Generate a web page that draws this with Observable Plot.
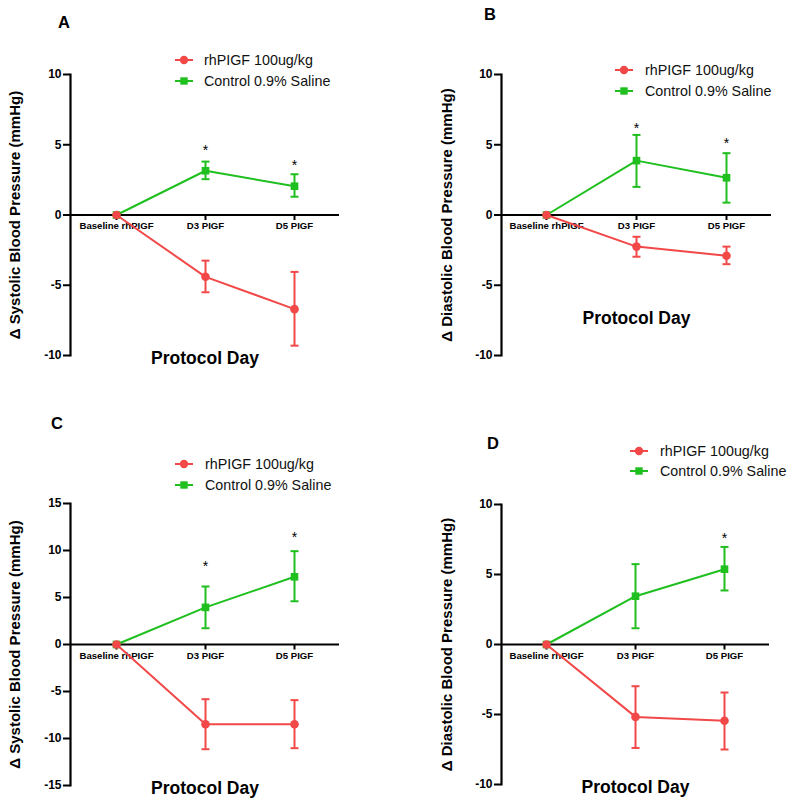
<!DOCTYPE html>
<html>
<head>
<meta charset="utf-8">
<script src="https://cdn.jsdelivr.net/npm/d3@7"></script>
<script src="https://cdn.jsdelivr.net/npm/@observablehq/plot@0.6"></script>
<style>
  html, body { margin: 0; padding: 0; background: #fff; }
  #wrap { position: relative; width: 800px; height: 811px; overflow: hidden; background: #fff; }
  #wrap svg { position: absolute; }
</style>
</head>
<body>
<div id="wrap"></div>
<script>
// ---------- data ----------
const days = ["Baseline rhPIGF", "D3 PIGF", "D5 PIGF"];
const seriesNames = ["rhPIGF 100ug/kg", "Control 0.9% Saline"];
const panelLetters = ["A", "B", "C", "D"];
const yLabels = [
  "\u0394 Systolic Blood Pressure (mmHg)",
  "\u0394 Diastolic Blood Pressure (mmHg)",
  "\u0394 Systolic Blood Pressure (mmHg)",
  "\u0394 Diastolic Blood Pressure (mmHg)"
];
const xLabel = "Protocol Day";
const ticks10 = [-10, -5, 0, 5, 10];
const ticks15 = [-15, -10, -5, 0, 5, 10, 15];

// Panel A – systolic
const aPlgf = [0, -4.4, -6.7];
const aPlgfHi = [0, -3.25, -4.05];
const aPlgfLo = [0, -5.5, -9.3];
const aCtrl = [0, 3.15, 2.05];
const aCtrlHi = [0, 3.8, 2.9];
const aCtrlLo = [0, 2.55, 1.3];
const aStarDays = ["D3 PIGF", "D5 PIGF"];
const aStarY = [4.8, 3.7];

// Panel B – diastolic
const bPlgf = [0, -2.25, -2.9];
const bPlgfHi = [0, -1.55, -2.25];
const bPlgfLo = [0, -2.97, -3.5];
const bCtrl = [0, 3.87, 2.65];
const bCtrlHi = [0, 5.7, 4.4];
const bCtrlLo = [0, 2.0, 0.88];
const bStarDays = ["D3 PIGF", "D5 PIGF"];
const bStarY = [6.4, 5.27];

// Panel C – systolic
const cPlgf = [0, -8.48, -8.48];
const cPlgfHi = [0, -5.82, -5.92];
const cPlgfLo = [0, -11.14, -11.03];
const cCtrl = [0, 3.95, 7.2];
const cCtrlHi = [0, 6.17, 9.93];
const cCtrlLo = [0, 1.73, 4.6];
const cStarDays = ["D3 PIGF", "D5 PIGF"];
const cStarY = [8.6, 11.7];

// Panel D – diastolic
const dPlgf = [0, -5.17, -5.45];
const dPlgfHi = [0, -2.98, -3.43];
const dPlgfLo = [0, -7.39, -7.5];
const dCtrl = [0, 3.45, 5.38];
const dCtrlHi = [0, 5.74, 6.97];
const dCtrlLo = [0, 1.16, 3.86];
const dStarDays = ["D5 PIGF"];
const dStarY = [7.8];

// ---------- styling ----------
const RED = "#f24848";
const GREEN = "#1ebf1e";
const FONT = "'Liberation Sans', Arial, Helvetica, sans-serif";

const capSymbol = {
  draw(ctx, size) {
    const r = Math.sqrt(size / Math.PI);
    ctx.moveTo(-r, 0); ctx.lineTo(r, 0);
  }
};
const tickDown = {
  draw(ctx, size) {
    const r = Math.sqrt(size / Math.PI);
    ctx.moveTo(0, 0); ctx.lineTo(0, r);
  }
};

function rows(mean, hi, lo) {
  return days.map((d, i) => ({day: d, mean: mean[i], hi: hi[i], lo: lo[i]}));
}

function seriesMarks(data, color, symbol, r) {
  const withErr = data.filter(d => d.hi !== d.lo);
  return [
    Plot.ruleX(withErr, {x: "day", y1: "lo", y2: "hi", stroke: color, strokeWidth: 2}),
    Plot.dot(withErr, {x: "day", y: "hi", symbol: capSymbol, r: 4, stroke: color, strokeWidth: 2}),
    Plot.dot(withErr, {x: "day", y: "lo", symbol: capSymbol, r: 4, stroke: color, strokeWidth: 2}),
    Plot.line(data, {x: "day", y: "mean", stroke: color, strokeWidth: 2}),
    Plot.dot(data, {x: "day", y: "mean", symbol, r, fill: color, stroke: "none"})
  ];
}

function panel(cfg) {
  const plgf = rows(cfg.plgf, cfg.plgfHi, cfg.plgfLo);
  const ctrl = rows(cfg.ctrl, cfg.ctrlHi, cfg.ctrlLo);
  const stars = cfg.starDays.map((d, i) => ({day: d, y: cfg.starY[i]}));
  const svg = Plot.plot({
    width: cfg.w,
    height: cfg.h,
    marginLeft: cfg.ml,
    marginRight: cfg.w - cfg.right,
    marginTop: cfg.mt,
    marginBottom: cfg.h - cfg.bottom,
    style: {fontFamily: FONT, background: "#fff", color: "#000", overflow: "visible"},
    x: {type: "point", domain: days, padding: 0.5, axis: null},
    y: {domain: cfg.yDomain, axis: null},
    marks: [
      Plot.axisY({ticks: cfg.yTicks, tickFormat: d => String(d), tickSize: 7, tickPadding: 2,
                  strokeWidth: 2, fontSize: 12, fontWeight: "bold", label: null}),
      Plot.frame({anchor: "left", strokeWidth: 2.2}),
      Plot.ruleY([0], {strokeWidth: 2}),
      Plot.dot(days, {x: d => d, y: () => 0, symbol: tickDown, r: 5, stroke: "#000", strokeWidth: 2}),
      Plot.text(days, {x: d => d, y: () => 0, dy: 11, text: d => d, fontSize: 9.6, fontWeight: "bold"}),
      Plot.text([cfg.ylabel], {frameAnchor: "left", textAnchor: "middle", rotate: -90, dx: cfg.ylabDx,
                               text: d => d, fontSize: 15, fontWeight: "bold"}),
      Plot.text([xLabel], {frameAnchor: "bottom", textAnchor: "middle", dy: cfg.xlabDy, text: d => d,
                           fontSize: 17.5, fontWeight: "bold"}),
      Plot.text(stars, {x: "day", y: "y", text: () => "*", dy: 3, fontSize: 14}),
      ...seriesMarks(ctrl, GREEN, "square", 4.3),
      ...seriesMarks(plgf, RED, "circle", 4.3)
    ]
  });
  svg.style.left = cfg.left + "px";
  svg.style.top = cfg.top + "px";

  // legend + panel letter
  const g = d3.select(svg).append("g").attr("font-family", FONT);
  const L = cfg.legend;
  [[seriesNames[0], RED, "circle", L.y1], [seriesNames[1], GREEN, "square", L.y2]].forEach(([name, col, sym, y]) => {
    g.append("line").attr("x1", L.x0).attr("x2", L.x1).attr("y1", y).attr("y2", y)
      .attr("stroke", col).attr("stroke-width", 2);
    const cx = (L.x0 + L.x1) / 2;
    if (sym === "circle") g.append("circle").attr("cx", cx).attr("cy", y).attr("r", 4.2).attr("fill", col);
    else g.append("rect").attr("x", cx - 3.7).attr("y", y - 3.7).attr("width", 7.4).attr("height", 7.4).attr("fill", col);
    g.append("text").attr("x", L.tx).attr("y", y).attr("dy", "0.35em").attr("text-anchor", "start")
      .attr("font-size", 14.3).attr("fill", "#111").text(name);
  });
  g.append("text").attr("x", cfg.letter.x).attr("y", cfg.letter.y).attr("dy", "0.35em")
    .attr("text-anchor", "middle").attr("font-size", 16.5).attr("font-weight", "bold").text(cfg.letterText);
  document.getElementById("wrap").appendChild(svg);
}

panel({letterText: panelLetters[0], ylabel: yLabels[0], yDomain: [-10, 10], yTicks: ticks10,
  plgf: aPlgf, plgfHi: aPlgfHi, plgfLo: aPlgfLo, ctrl: aCtrl, ctrlHi: aCtrlHi, ctrlLo: aCtrlLo,
  starDays: aStarDays, starY: aStarY,
  left: 0, top: 0, w: 400, h: 400, ml: 70, right: 339, mt: 74, bottom: 355,
  ylabDx: -55, xlabDy: 8,
  legend: {x0: 175, x1: 193, y1: 60, y2: 81, tx: 204}, letter: {x: 64, y: 22}});

panel({letterText: panelLetters[1], ylabel: yLabels[1], yDomain: [-10, 10], yTicks: ticks10,
  plgf: bPlgf, plgfHi: bPlgfHi, plgfLo: bPlgfLo, ctrl: bCtrl, ctrlHi: bCtrlHi, ctrlLo: bCtrlLo,
  starDays: bStarDays, starY: bStarY,
  left: 400, top: 0, w: 400, h: 400, ml: 101, right: 371, mt: 74, bottom: 355,
  ylabDx: -54, xlabDy: -32,
  legend: {x0: 215, x1: 233, y1: 70, y2: 91, tx: 245}, letter: {x: 90, y: 14}});

panel({letterText: panelLetters[2], ylabel: yLabels[2], yDomain: [-15, 15], yTicks: ticks15,
  plgf: cPlgf, plgfHi: cPlgfHi, plgfLo: cPlgfLo, ctrl: cCtrl, ctrlHi: cCtrlHi, ctrlLo: cCtrlLo,
  starDays: cStarDays, starY: cStarY,
  left: 0, top: 400, w: 400, h: 411, ml: 70, right: 339, mt: 103, bottom: 385,
  ylabDx: -55, xlabDy: 8,
  legend: {x0: 175, x1: 193, y1: 64, y2: 85, tx: 205}, letter: {x: 57, y: 23}});

panel({letterText: panelLetters[3], ylabel: yLabels[3], yDomain: [-10, 10], yTicks: ticks10,
  plgf: dPlgf, plgfHi: dPlgfHi, plgfLo: dPlgfLo, ctrl: dCtrl, ctrlHi: dCtrlHi, ctrlLo: dCtrlLo,
  starDays: dStarDays, starY: dStarY,
  left: 400, top: 400, w: 400, h: 411, ml: 101, right: 369, mt: 104, bottom: 384,
  ylabDx: -54, xlabDy: 8,
  legend: {x0: 230, x1: 248, y1: 51, y2: 71, tx: 260}, letter: {x: 93, y: 43}});
</script>
</body>
</html>
